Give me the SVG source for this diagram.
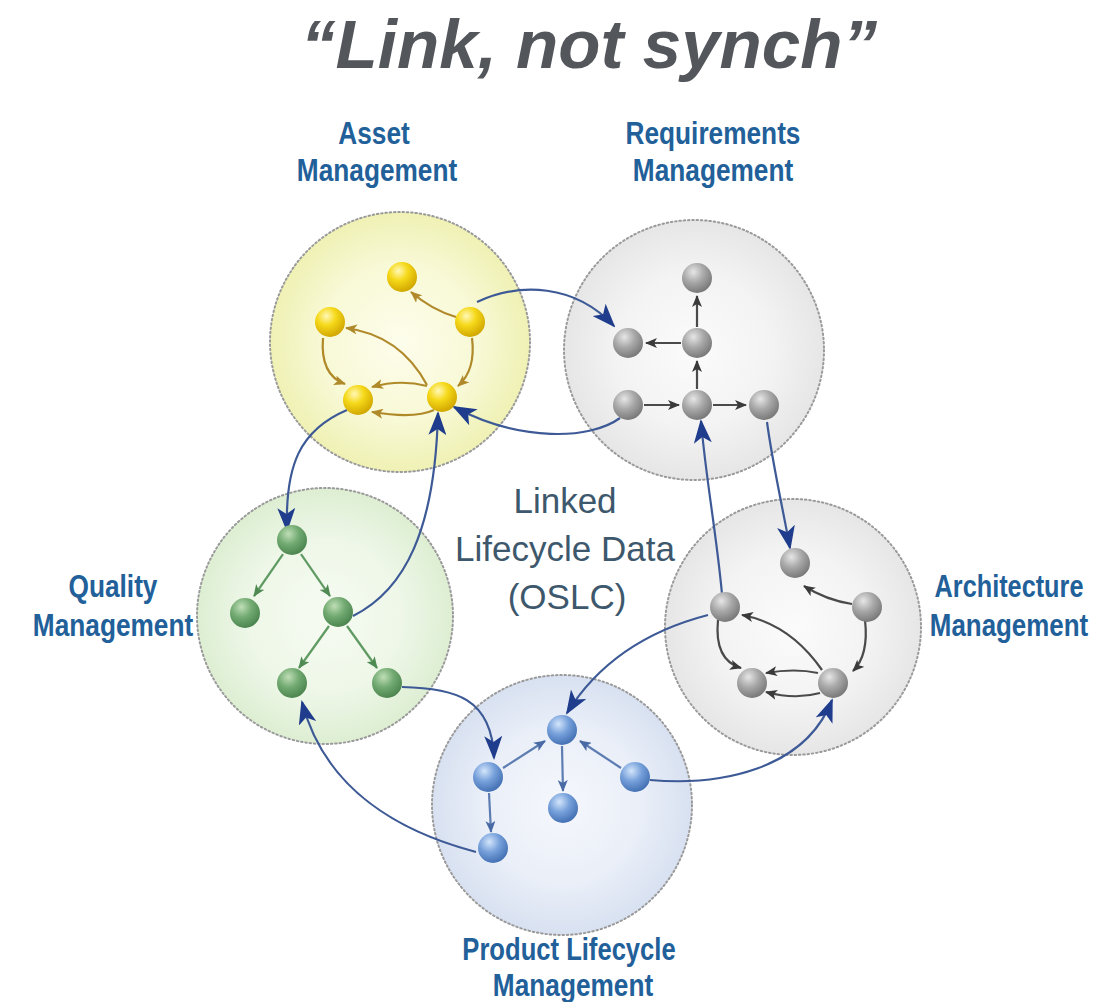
<svg xmlns="http://www.w3.org/2000/svg" width="1104" height="1002" viewBox="0 0 1104 1002">
<style>
.title{font-family:"Liberation Sans",Arial,sans-serif;font-weight:bold;font-style:italic;fill:#53575c}
.lbl{font-family:"Liberation Sans",Arial,sans-serif;font-weight:bold;font-size:32px;fill:#22609a;text-anchor:middle}
.center{font-family:"Liberation Sans",Arial,sans-serif;font-size:35px;fill:#3d586c}
.zone{stroke:#9a9a9a;stroke-width:2;stroke-dasharray:1.5 2.8;stroke-linecap:round}
.link{fill:none;stroke:#3d5a96;stroke-width:2.2;marker-end:url(#big)}
.ay{fill:none;stroke:#b08a2a;stroke-width:2.2;marker-end:url(#ay)}
.ag{fill:none;stroke:#4a4a4a;stroke-width:2.2;marker-end:url(#ag)}
.aq{fill:none;stroke:#5f9a62;stroke-width:2.2;marker-end:url(#aq)}
.ab{fill:none;stroke:#5d7db2;stroke-width:2.2;marker-end:url(#ab)}
</style>
<defs>
<radialGradient id="zy" cx="50%" cy="50%" r="50%"><stop offset="0" stop-color="#fdfdec"/><stop offset="0.6" stop-color="#f8f9d6"/><stop offset="1" stop-color="#eff1b4"/></radialGradient>
<radialGradient id="zg" cx="50%" cy="50%" r="50%"><stop offset="0" stop-color="#fbfbfb"/><stop offset="0.6" stop-color="#f3f3f3"/><stop offset="1" stop-color="#e6e6e6"/></radialGradient>
<radialGradient id="zq" cx="50%" cy="50%" r="50%"><stop offset="0" stop-color="#f6fbf2"/><stop offset="0.6" stop-color="#eef7e8"/><stop offset="1" stop-color="#ddeed2"/></radialGradient>
<radialGradient id="zb" cx="50%" cy="50%" r="50%"><stop offset="0" stop-color="#f5f7fc"/><stop offset="0.6" stop-color="#eaeff8"/><stop offset="1" stop-color="#d8e1f1"/></radialGradient>
<radialGradient id="ny" cx="38%" cy="30%" r="70%"><stop offset="0" stop-color="#fff8b8"/><stop offset="0.45" stop-color="#f6d91a"/><stop offset="1" stop-color="#d2a800"/></radialGradient>
<radialGradient id="ng" cx="38%" cy="30%" r="70%"><stop offset="0" stop-color="#e6e6e6"/><stop offset="0.5" stop-color="#a8a8a8"/><stop offset="1" stop-color="#7a7a7a"/></radialGradient>
<radialGradient id="nq" cx="38%" cy="30%" r="70%"><stop offset="0" stop-color="#bfdeb6"/><stop offset="0.5" stop-color="#72aa72"/><stop offset="1" stop-color="#4d8650"/></radialGradient>
<radialGradient id="nb" cx="38%" cy="30%" r="70%"><stop offset="0" stop-color="#d3e5fb"/><stop offset="0.5" stop-color="#76a0da"/><stop offset="1" stop-color="#4572b5"/></radialGradient>
<marker id="big" viewBox="0 0 24 18" refX="22" refY="9" markerWidth="24" markerHeight="18" markerUnits="userSpaceOnUse" orient="auto"><path d="M0,0 L24,9 L0,18 L6,9 z" fill="#1f3d8c"/></marker>
<marker id="ay" viewBox="0 0 12 10" refX="11" refY="5" markerWidth="12" markerHeight="10" markerUnits="userSpaceOnUse" orient="auto"><path d="M0,0 L12,5 L0,10 L3,5 z" fill="#b08a2a"/></marker>
<marker id="ag" viewBox="0 0 12 10" refX="11" refY="5" markerWidth="12" markerHeight="10" markerUnits="userSpaceOnUse" orient="auto"><path d="M0,0 L12,5 L0,10 L3,5 z" fill="#3a3a3a"/></marker>
<marker id="aq" viewBox="0 0 12 10" refX="11" refY="5" markerWidth="12" markerHeight="10" markerUnits="userSpaceOnUse" orient="auto"><path d="M0,0 L12,5 L0,10 L3,5 z" fill="#4f8a52"/></marker>
<marker id="ab" viewBox="0 0 12 10" refX="11" refY="5" markerWidth="12" markerHeight="10" markerUnits="userSpaceOnUse" orient="auto"><path d="M0,0 L12,5 L0,10 L3,5 z" fill="#4a6aa5"/></marker>
</defs>
<rect width="1104" height="1002" fill="#ffffff"/>
<text class="title" x="589" y="68" font-size="68" text-anchor="middle" textLength="576" lengthAdjust="spacingAndGlyphs">“Link, not synch”</text>

<g id="zones">
<circle id="zone-asset" cx="400" cy="342" r="130" fill="url(#zy)" class="zone"/>
<circle id="zone-req" cx="694" cy="350" r="130" fill="url(#zg)" class="zone"/>
<circle id="zone-quality" cx="325" cy="616" r="128" fill="url(#zq)" class="zone"/>
<circle id="zone-arch" cx="793" cy="627" r="128" fill="url(#zg)" class="zone"/>
<circle id="zone-plm" cx="562" cy="805" r="130" fill="url(#zb)" class="zone"/>
</g>

<g id="labels">
<text class="lbl" transform="translate(374,144) scale(0.82,1)">Asset</text>
<text class="lbl" transform="translate(377,181) scale(0.82,1)">Management</text>
<text class="lbl" transform="translate(713,144) scale(0.82,1)">Requirements</text>
<text class="lbl" transform="translate(713,181) scale(0.82,1)">Management</text>
<text class="lbl" transform="translate(113,597) scale(0.82,1)">Quality</text>
<text class="lbl" transform="translate(113,636) scale(0.82,1)">Management</text>
<text class="lbl" transform="translate(1009,597) scale(0.79,1)">Architecture</text>
<text class="lbl" transform="translate(1009,636) scale(0.81,1)">Management</text>
<text class="lbl" transform="translate(569,960) scale(0.8,1)">Product Lifecycle</text>
<text class="lbl" transform="translate(573,996) scale(0.82,1)">Management</text>
</g>

<g id="center-label">
<text class="center" x="565" y="513" text-anchor="middle">Linked</text>
<text class="center" x="565" y="561" text-anchor="middle">Lifecycle Data</text>
<text class="center" x="567" y="609" text-anchor="middle">(OSLC)</text>
</g>

<g id="connectors">
<path class="link" d="M477,302 C520,282 575,284 614,326"/>
<path class="link" d="M620,418 C590,440 520,442 454,407"/>
<path class="link" d="M347,410 C300,430 285,465 287,530"/>
<path class="link" d="M353,616 C405,590 435,530 438,413"/>
<path class="link" d="M722,594 C716,530 706,480 701,421"/>
<path class="link" d="M767,422 C772,460 782,505 790,548"/>
<path class="link" d="M708,615 C650,630 600,660 567,713"/>
<path class="link" d="M650,780 C720,786 805,770 832,700"/>
<path class="link" d="M402,687 C455,688 492,698 494,758"/>
<path class="link" d="M476,852 C400,832 325,790 302,702"/>
</g>

<g id="internal-arrows">
<path class="ay" d="M456,317 Q432,310 411,292"/>
<path class="ay" d="M427,385 Q400,335 346,328"/>
<path class="ay" d="M323,338 Q320,375 345,384"/>
<path class="ay" d="M472,338 Q476,370 458,386"/>
<path class="ay" d="M427,386 Q400,379 372,387"/>
<path class="ay" d="M434,410 Q415,419 372,412"/>

<path class="ag" d="M697,327 L697,296"/>
<path class="ag" d="M681,343 L646,343"/>
<path class="ag" d="M697,389 L697,361"/>
<path class="ag" d="M644,405 L679,405"/>
<path class="ag" d="M713,405 L746,405"/>

<path class="aq" d="M283,554 L254,596"/>
<path class="aq" d="M301,554 L330,596"/>
<path class="aq" d="M329,626 L299,668"/>
<path class="aq" d="M347,626 L377,668"/>

<path class="ag" d="M852,604 Q826,600 804,586"/>
<path class="ag" d="M822,670 Q790,624 742,615"/>
<path class="ag" d="M718,620 Q714,660 741,668"/>
<path class="ag" d="M865,620 Q869,655 853,671"/>
<path class="ag" d="M818,673 Q795,668 766,673"/>
<path class="ag" d="M820,693 Q795,700 766,692"/>

<path class="ab" d="M503,768 L545,741"/>
<path class="ab" d="M621,768 L580,741"/>
<path class="ab" d="M562,746 L563,791"/>
<path class="ab" d="M489,793 L491,832"/>
</g>

<g id="nodes">
<g id="asset-nodes" fill="url(#ny)">
<circle cx="402" cy="277" r="15"/><circle cx="330" cy="322" r="15"/><circle cx="470" cy="322" r="15"/><circle cx="358" cy="400" r="15"/><circle cx="442" cy="397" r="15"/>
</g>
<g id="req-nodes" fill="url(#ng)">
<circle cx="697" cy="278" r="15"/><circle cx="628" cy="343" r="15"/><circle cx="697" cy="343" r="15"/><circle cx="628" cy="405" r="15"/><circle cx="697" cy="405" r="15"/><circle cx="764" cy="405" r="15"/>
</g>
<g id="quality-nodes" fill="url(#nq)">
<circle cx="292" cy="540" r="15"/><circle cx="245" cy="613" r="15"/><circle cx="338" cy="612" r="15"/><circle cx="292" cy="683" r="15"/><circle cx="387" cy="683" r="15"/>
</g>
<g id="arch-nodes" fill="url(#ng)">
<circle cx="795" cy="563" r="15"/><circle cx="867" cy="607" r="15"/><circle cx="725" cy="607" r="15"/><circle cx="752" cy="683" r="15"/><circle cx="833" cy="683" r="15"/>
</g>
<g id="plm-nodes" fill="url(#nb)">
<circle cx="562" cy="730" r="15"/><circle cx="488" cy="777" r="15"/><circle cx="635" cy="777" r="15"/><circle cx="563" cy="808" r="15"/><circle cx="493" cy="848" r="15"/>
</g>
</g>
</svg>
